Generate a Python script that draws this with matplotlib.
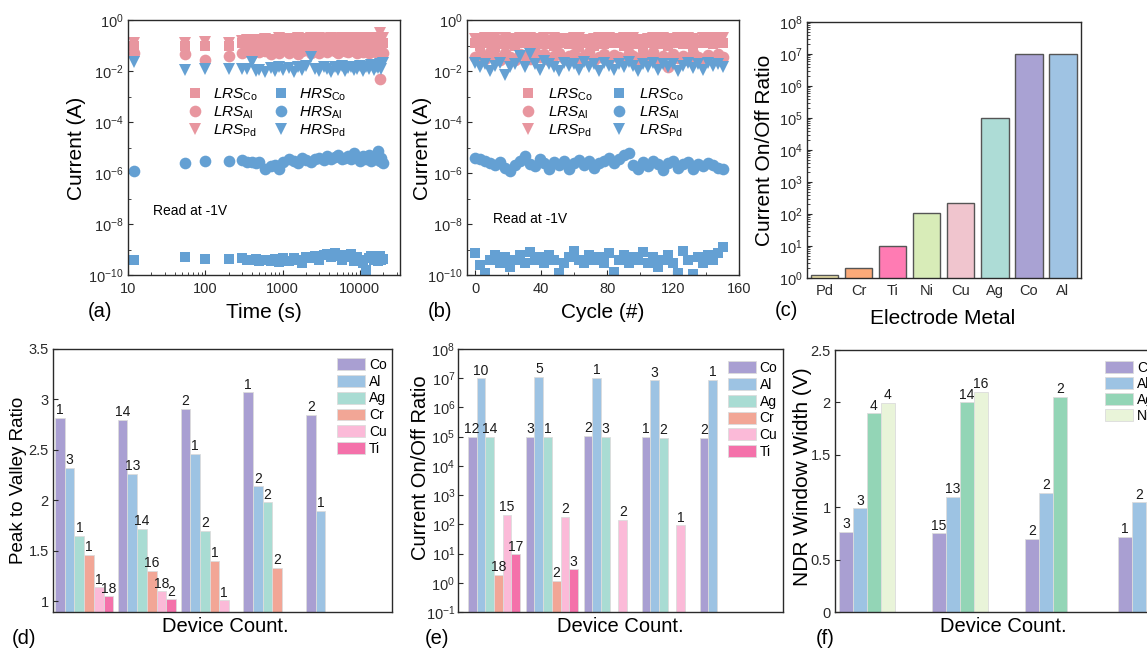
import numpy as np
import matplotlib.pyplot as plt
from matplotlib.ticker import FixedLocator, NullLocator, LogLocator, NullFormatter, FuncFormatter

plt.rcParams['font.family'] = ['Liberation Sans', 'DejaVu Sans']
plt.rcParams['mathtext.fontset'] = 'custom'
plt.rcParams['mathtext.rm'] = 'Liberation Sans'
plt.rcParams['mathtext.it'] = 'Liberation Sans:italic'
plt.rcParams['mathtext.bf'] = 'Liberation Sans:bold'

# ---------------- data: (a) retention vs time ----------------
t_a = [12, 55, 100, 200, 300, 350, 400, 450, 500, 600,
       700, 800, 900, 1000, 1200, 1400, 1600, 1800, 2000, 2300,
       2600, 3000, 3400, 3800, 4200, 4700, 5200, 5800, 6400, 7000,
       7700, 8500, 9300, 10000, 11000, 12000, 13000, 14000, 15000, 16000,
       17000, 18000, 19000, 20000]
lrs_co_a = np.array([1.0, 1.0, 1.0, 1.0, 1.2, 1.1, 1.3, 0.9, 1.2, 1.0,
                     1.3, 1.1, 1.2, 1.4, 1.0, 1.3, 1.1, 1.5, 1.2, 1.0,
                     1.4, 1.1, 1.3, 1.5, 1.0, 1.2, 1.4, 1.1, 1.3, 1.0,
                     1.5, 1.2, 1.1, 1.4, 1.0, 1.3, 1.2, 1.5, 1.1, 1.3,
                     1.2, 1.4, 1.1, 1.3]) * 1e-1
lrs_al_a = np.array([5, 4.5, 2.8, 4, 5, 6, 4.5, 7, 5.5, 6,
                     4.5, 7, 5, 6.5, 5, 7.5, 4.5, 6, 8, 5,
                     6.5, 5, 7, 5.5, 8, 6, 5, 7, 6, 5.5,
                     7.5, 6, 5, 7, 5.5, 6.5, 5, 7, 6, 5.5,
                     6.5, 0.5, 6, 5]) * 1e-2
lrs_pd_a = np.array([1.3, 1.3, 1.4, 1.3, 1.5, 1.6, 1.5, 1.7, 1.6, 1.8,
                     1.6, 1.7, 1.9, 1.6, 1.8, 1.7, 1.9, 1.6, 1.8, 2.0,
                     1.7, 1.9, 1.8, 1.6, 2.0, 1.8, 1.7, 1.9, 2.0, 1.8,
                     1.7, 1.9, 2.0, 1.8, 1.7, 1.9, 2.0, 1.8, 1.9, 2.0,
                     1.8, 3.0, 2.0, 1.9]) * 1e-1
hrs_co_a = np.array([4, 5, 4.2, 4.3, 4.5, 4, 3.8, 4.2, 3.5, 4,
                     3.6, 4.2, 3.2, 4.5, 3.5, 4.8, 4, 3, 5, 4.5,
                     5.5, 4, 6, 6.5, 5, 7, 5.5, 4, 6, 5,
                     6.5, 3.5, 5, 4, 3, 1.6, 4.5, 5.5, 4, 5,
                     3.5, 5.5, 4, 4.2]) * 1e-10
hrs_al_a = np.array([1.2, 2.5, 3, 3, 3.2, 2.6, 2.8, 2.5, 2.7, 1.4,
                     1.8, 2, 1.5, 2.8, 3.5, 3, 2.5, 3.8, 3.2, 2.8,
                     3.5, 4, 3.2, 4.5, 3.5, 4.2, 5, 3.5, 4, 4.8,
                     3.5, 6, 4, 3, 4.5, 3.5, 5, 3, 4, 3.5,
                     7, 3, 4, 2.5]) * 1e-6
hrs_pd_a = np.array([2.2, 1.1, 1.2, 1.2, 1.2, 1.2, 2.2, 1.0, 1.1, 0.9,
                     1.3, 1.0, 1.5, 1.1, 1.3, 0.9, 1.4, 1.1, 1.6, 3.5,
                     1.2, 1.0, 1.5, 1.2, 0.9, 1.4, 1.1, 1.6, 1.0, 1.3,
                     1.5, 1.1, 1.2, 1.6, 1.0, 1.4, 1.2, 1.7, 1.1, 1.5,
                     1.3, 1.8, 1.2, 2.0]) * 1e-2

# ---------------- data: (b) endurance vs cycle ----------------
cyc_b = list(range(0, 151, 3))
lrs_co_b = np.array([1.3, 1.0, 1.5, 1.2, 0.9, 1.4, 1.1, 1.6, 1.0, 1.3,
                     1.2, 1.5, 0.9, 1.3, 1.1, 1.4, 1.0, 1.2, 1.5, 1.1,
                     1.3, 0.9, 1.4, 1.2, 1.0, 1.5, 1.1, 1.3, 1.2, 1.4,
                     1.0, 1.3, 1.1, 1.5, 0.9, 1.2, 1.4, 1.1, 1.3, 1.0,
                     1.5, 1.2, 1.1, 1.4, 1.0, 1.3, 1.2, 1.5, 1.1, 1.3,
                     1.2]) * 1e-1
lrs_al_b = np.array([3.5, 4.5, 3, 5.5, 4, 2.6, 5, 3.5, 2.8, 4.5,
                     3.8, 3, 5.5, 3.5, 4.5, 2.8, 4, 5, 3.2, 3.8,
                     4.5, 3, 4, 5.5, 2.8, 3.5, 4.8, 3, 4.2, 3.5,
                     3, 5, 3.8, 2.8, 4.5, 3.5, 5.5, 2.8, 4, 1.5,
                     4.5, 3.2, 4, 2.8, 5, 3.5, 3, 4.2, 2.8, 4.5,
                     3.5]) * 1e-2
lrs_pd_b = np.array([1.8, 1.6, 2.0, 1.7, 1.9, 1.5, 2.0, 1.8, 1.6, 1.9,
                     1.7, 2.0, 1.6, 1.8, 1.9, 1.5, 2.0, 1.7, 1.8, 1.6,
                     1.9, 2.0, 1.7, 1.5, 1.8, 1.9, 1.6, 2.0, 1.7, 1.8,
                     1.9, 1.6, 2.0, 1.7, 1.5, 1.8, 1.9, 1.6, 2.0, 1.8,
                     1.7, 1.9, 1.6, 2.0, 1.8, 1.5, 1.9, 1.7, 2.0, 1.8,
                     2.0]) * 1e-1
hrs_co_b = np.array([7, 2.5, 1.2, 4, 6, 3, 5, 2, 4, 6,
                     3, 8, 4, 5, 3, 6, 4, 1.2, 3, 5,
                     9, 4, 3, 6, 4, 5, 3, 7, 1.3, 4,
                     6, 3, 5, 4, 8, 3, 5, 2, 4, 6,
                     3, 1.2, 9, 4, 1.1, 5, 3, 6, 4, 7,
                     13]) * 1e-10
hrs_al_b = np.array([4, 3.5, 3, 2.5, 2, 2.8, 1.6, 1.2, 2, 3,
                     4.5, 2.2, 1.8, 3.5, 2.5, 1.5, 2.8, 2, 3, 1.4,
                     2.5, 3.2, 2, 3, 1.6, 2.4, 3, 4, 2.5, 3.5,
                     5, 6, 2, 1.4, 2.8, 1.8, 3, 2.2, 1.3, 2.5,
                     3, 1.6, 2.2, 2.8, 1.5, 2.2, 1.8, 2.5, 2, 1.6,
                     1.5]) * 1e-6
hrs_pd_b = np.array([2.0, 1.4, 1.8, 1.0, 1.6, 2.0, 0.7, 1.4, 1.8, 4,
                     1.4, 4.5, 1.8, 1.1, 2.4, 1.8, 1.4, 1.0, 2.0, 1.6,
                     1.8, 1.1, 2.2, 1.4, 1.8, 1.0, 2.0, 1.6, 1.1, 1.9,
                     1.4, 2.2, 1.6, 1.0, 1.8, 1.4, 2.0, 1.1, 1.8, 1.5,
                     1.9, 1.0, 1.6, 2.0, 1.3, 1.8, 1.1, 2.0, 1.6, 1.8,
                     1.4]) * 1e-2

# ---------------- data: (c) on/off ratio per metal ----------------
metals_c = ['Pd', 'Cr', 'Ti', 'Ni', 'Cu', 'Ag', 'Co', 'Al']
ratio_c = [1.2, 2, 10, 105, 220, 1e5, 1e7, 1e7]
colors_c = ['#EEE4A9', '#FBAA79', '#FF7BB3', '#D8ECB8', '#F0C5CE', '#ADDCD6', '#A9A2D3', '#9FC3E3']

# ---------------- data: (d) peak to valley ratio ----------------
nan = np.nan
d_co = [2.82, 2.80, 2.91, 3.07, 2.85]
d_al = [2.32, 2.26, 2.46, 2.14, 1.90]
d_ag = [1.65, 1.72, 1.70, 1.98, nan]
d_cr = [1.46, 1.30, 1.40, 1.33, nan]
d_cu = [1.14, 1.10, 1.01, nan, nan]
d_ti = [1.05, 1.02, nan, nan, nan]
d_co_n = [1, 14, 2, 1, 2]
d_al_n = [3, 13, 1, 2, 1]
d_ag_n = [1, 14, 2, 2, 0]
d_cr_n = [1, 16, 1, 2, 0]
d_cu_n = [1, 18, 1, 0, 0]
d_ti_n = [18, 2, 0, 0, 0]

# ---------------- data: (e) on/off ratio per device ----------------
e_co = [1e5, 1e5, 1.05e5, 1e5, 9.2e4]
e_al = [1e7, 1.1e7, 1.05e7, 8.5e6, 9e6]
e_ag = [1e5, 1e5, 1e5, 9e4, nan]
e_cr = [1.9, 1.15, nan, nan, nan]
e_cu = [215, 180, 140, 92, nan]
e_ti = [9.5, 2.9, nan, nan, nan]
e_co_n = [12, 3, 2, 1, 2]
e_al_n = [10, 5, 1, 3, 1]
e_ag_n = [14, 1, 3, 2, 0]
e_cr_n = [18, 2, 0, 0, 0]
e_cu_n = [15, 2, 2, 1, 0]
e_ti_n = [17, 3, 0, 0, 0]

# ---------------- data: (f) NDR window width ----------------
f_co = [0.765, 0.75, 0.695, 0.717]
f_al = [0.99, 1.10, 1.135, 1.045]
f_ag = [1.895, 2.0, 2.05, nan]
f_ni = [1.997, 2.10, nan, nan]
f_co_n = [3, 15, 2, 1]
f_al_n = [3, 13, 2, 2]
f_ag_n = [4, 14, 2, 0]
f_ni_n = [4, 16, 0, 0]

c_co, c_al, c_ag, c_cr, c_cu, c_ti = '#A99FD2', '#9DC3E3', '#A9DCD3', '#F2A696', '#FBBAD8', '#F471AA'
c_ag_f, c_ni_f = '#93D5B6', '#E9F4D9'
pink, blue = '#E8969F', '#64A0D3'

W, H = 1147, 648


def box(l, t, r, b):
    return [l / W, 1 - b / H, (r - l) / W, (b - t) / H]


def ftext(x, y, s, **kw):
    fig.text(x / W, 1 - y / H, s, ha='center', va='center', **kw)


def style(ax):
    for sp in ax.spines.values():
        sp.set_color('#2a2a2a')
        sp.set_linewidth(1.0)
    ax.tick_params(which='both', direction='in', top=False, right=False,
                   labelsize=10.5, colors='#2a2a2a', pad=3)
    ax.tick_params(which='major', length=3.5)
    ax.tick_params(which='minor', length=2)


def logfmt(v, p):
    return r'$10^{%d}$' % round(np.log10(v))


def grouped(ax, series, names, colors, counts, width):
    n = len(series)
    for i in range(n):
        off = (i - (n - 1) / 2) * width
        xs = [g + off for g, v in enumerate(series[i]) if not np.isnan(v)]
        vs = [v for v in series[i] if not np.isnan(v)]
        ns = [c for v, c in zip(series[i], counts[i]) if not np.isnan(v)]
        ax.bar(xs, vs, width, color=colors[i], edgecolor='#dcdcdc', linewidth=0.6,
               label=names[i])
        for x, v, c in zip(xs, vs, ns):
            ax.annotate(str(c), (x, v), xytext=(0, 0.5), textcoords='offset points',
                        ha='center', va='bottom', fontsize=10, color='#1a1a1a')


fig = plt.figure(figsize=(11.47, 6.48), dpi=100)

# ================= (a) =================
ax = fig.add_axes(box(128, 20, 400, 275))
ms = 7.8
h1, = ax.plot(t_a, lrs_co_a, 's', color=pink, ms=ms, mew=0)
h2, = ax.plot(t_a, lrs_al_a, 'o', color=pink, ms=ms + 0.6, mew=0)
h3, = ax.plot(t_a, lrs_pd_a, 'v', color=pink, ms=ms + 1.2, mew=0)
h4, = ax.plot(t_a, hrs_co_a, 's', color=blue, ms=ms, mew=0)
h5, = ax.plot(t_a, hrs_al_a, 'o', color=blue, ms=ms + 0.6, mew=0)
h6, = ax.plot(t_a, hrs_pd_a, 'v', color=blue, ms=ms + 1.2, mew=0)
ax.set_xscale('log')
ax.set_yscale('log')
ax.set_xlim(10, 33000)
ax.set_ylim(1e-10, 1)
ax.xaxis.set_major_locator(FixedLocator([10, 100, 1000, 10000]))
ax.xaxis.set_major_formatter(FuncFormatter(lambda v, p: '%d' % v))
ax.xaxis.set_minor_locator(LogLocator(subs=np.arange(2, 10)))
ax.xaxis.set_minor_formatter(NullFormatter())
ax.yaxis.set_major_locator(FixedLocator([1e-10, 1e-8, 1e-6, 1e-4, 1e-2, 1]))
ax.yaxis.set_major_formatter(FuncFormatter(logfmt))
ax.yaxis.set_minor_locator(FixedLocator([1e-9, 1e-7, 1e-5, 1e-3, 1e-1]))
ax.yaxis.set_minor_formatter(NullFormatter())
style(ax)
ax.tick_params(axis='x', pad=5)
ax.legend([h1, h2, h3, h4, h5, h6],
          [r'$LRS_{\mathrm{Co}}$', r'$LRS_{\mathrm{Al}}$', r'$LRS_{\mathrm{Pd}}$',
           r'$HRS_{\mathrm{Co}}$', r'$HRS_{\mathrm{Al}}$', r'$HRS_{\mathrm{Pd}}$'],
          ncol=2, loc='upper left', bbox_to_anchor=(0.224, 0.74), frameon=False,
          fontsize=11, borderpad=0, borderaxespad=0, handlelength=0.8,
          handletextpad=0.8, columnspacing=1.1, labelspacing=0.1)
ax.text(0.092, 0.251, 'Read at -1V', transform=ax.transAxes, fontsize=10, va='center')
ftext(77, 148, 'Current (A)', rotation=90, fontsize=15)
ftext(264, 313, 'Time (s)', fontsize=15)
ftext(100, 312, '(a)', fontsize=14.5)

# ================= (b) =================
ax = fig.add_axes(box(467, 20, 739, 275))
h1, = ax.plot(cyc_b, lrs_co_b, 's', color=pink, ms=ms, mew=0)
h2, = ax.plot(cyc_b, lrs_al_b, 'o', color=pink, ms=ms + 0.6, mew=0)
h3, = ax.plot(cyc_b, lrs_pd_b, 'v', color=pink, ms=ms + 1.2, mew=0)
h4, = ax.plot(cyc_b, hrs_co_b, 's', color=blue, ms=ms, mew=0)
h5, = ax.plot(cyc_b, hrs_al_b, 'o', color=blue, ms=ms + 0.6, mew=0)
h6, = ax.plot(cyc_b, hrs_pd_b, 'v', color=blue, ms=ms + 1.2, mew=0)
ax.set_yscale('log')
ax.set_xlim(-5, 160)
ax.set_ylim(1e-10, 1)
ax.xaxis.set_major_locator(FixedLocator([0, 40, 80, 120, 160]))
ax.xaxis.set_minor_locator(FixedLocator([20, 60, 100, 140]))
ax.yaxis.set_major_locator(FixedLocator([1e-10, 1e-8, 1e-6, 1e-4, 1e-2, 1]))
ax.yaxis.set_major_formatter(FuncFormatter(logfmt))
ax.yaxis.set_minor_locator(FixedLocator([1e-9, 1e-7, 1e-5, 1e-3, 1e-1]))
ax.yaxis.set_minor_formatter(NullFormatter())
style(ax)
ax.tick_params(axis='x', pad=5)
ax.legend([h1, h2, h3, h4, h5, h6],
          [r'$LRS_{\mathrm{Co}}$', r'$LRS_{\mathrm{Al}}$', r'$LRS_{\mathrm{Pd}}$',
           r'$LRS_{\mathrm{Co}}$', r'$LRS_{\mathrm{Al}}$', r'$LRS_{\mathrm{Pd}}$'],
          ncol=2, loc='upper left', bbox_to_anchor=(0.202, 0.74), frameon=False,
          fontsize=11, borderpad=0, borderaxespad=0, handlelength=0.8,
          handletextpad=0.9, columnspacing=1.3, labelspacing=0.1)
ax.text(0.096, 0.22, 'Read at -1V', transform=ax.transAxes, fontsize=10, va='center')
ftext(423, 148, 'Current (A)', rotation=90, fontsize=15)
ftext(603, 313, 'Cycle (#)', fontsize=15)
ftext(440, 312, '(b)', fontsize=14.5)

# ================= (c) =================
ax = fig.add_axes(box(807, 22, 1081, 278))
ax.set_yscale('log')
ax.bar(range(len(metals_c)), ratio_c, 0.8, color=colors_c, edgecolor='#555555', linewidth=1.0)
ax.set_xlim(-0.52, 7.53)
ax.set_ylim(1, 1e8)
ax.set_xticks(range(len(metals_c)))
ax.set_xticklabels(metals_c)
ax.yaxis.set_major_locator(FixedLocator([10.0 ** k for k in range(0, 9)]))
ax.yaxis.set_major_formatter(FuncFormatter(logfmt))
ax.yaxis.set_minor_locator(LogLocator(subs=np.arange(2, 10), numticks=20))
ax.yaxis.set_minor_formatter(NullFormatter())
style(ax)
ax.tick_params(axis='x', length=0, pad=4)
ftext(765, 150, 'Current On/Off Ratio', rotation=90, fontsize=15)
ftext(943, 318, 'Electrode Metal', fontsize=15)
ftext(786, 311, '(c)', fontsize=14.5)

names6 = ['Co', 'Al', 'Ag', 'Cr', 'Cu', 'Ti']
colors6 = [c_co, c_al, c_ag, c_cr, c_cu, c_ti]

# ================= (d) =================
ax = fig.add_axes(box(53, 349, 392, 612))
grouped(ax, [d_co, d_al, d_ag, d_cr, d_cu, d_ti], names6, colors6,
        [d_co_n, d_al_n, d_ag_n, d_cr_n, d_cu_n, d_ti_n], 0.155)
ax.set_xlim(-0.497, 4.905)
ax.set_ylim(0.895, 3.5)
ax.set_xticks([])
ax.set_yticks([1, 1.5, 2, 2.5, 3, 3.5])
ax.set_yticklabels(['1', '1.5', '2', '2.5', '3', '3.5'])
style(ax)
ax.legend(loc='upper left', bbox_to_anchor=(0.838, 0.966), frameon=False, fontsize=10,
          borderpad=0, borderaxespad=0, handlelength=2.0, handleheight=0.95,
          handletextpad=0.3, labelspacing=0.2)
ftext(19, 480, 'Peak to Valley Ratio', rotation=90, fontsize=13.5)
ftext(225, 626, 'Device Count.', fontsize=14.5)
ftext(24, 639, '(d)', fontsize=14.5)

# ================= (e) =================
ax = fig.add_axes(box(458, 349, 783, 612))
ax.set_yscale('log')
grouped(ax, [e_co, e_al, e_ag, e_cr, e_cu, e_ti], names6, colors6,
        [e_co_n, e_al_n, e_ag_n, e_cr_n, e_cu_n, e_ti_n], 0.15)
ax.set_xlim(-0.62, 4.99)
ax.set_ylim(0.1, 1e8)
ax.set_xticks([])
ax.yaxis.set_major_locator(FixedLocator([10.0 ** k for k in range(-1, 9)]))
ax.yaxis.set_major_formatter(FuncFormatter(logfmt))
ax.yaxis.set_minor_locator(NullLocator())
style(ax)
ax.tick_params(axis='y', pad=2)
ax.legend(loc='upper left', bbox_to_anchor=(0.83, 0.954), frameon=False, fontsize=10,
          borderpad=0, borderaxespad=0, handlelength=2.0, handleheight=0.95,
          handletextpad=0.3, labelspacing=0.2)
ftext(420, 468, 'Current On/Off Ratio', rotation=90, fontsize=14.5)
ftext(620, 626, 'Device Count.', fontsize=14.5)
ftext(437, 638, '(e)', fontsize=14.5)

# ================= (f) =================
ax = fig.add_axes(box(835, 350, 1174, 612))
grouped(ax, [f_co, f_al, f_ag, f_ni], ['Co', 'Al', 'Ag', 'Ni'],
        [c_co, c_al, c_ag_f, c_ni_f], [f_co_n, f_al_n, f_ag_n, f_ni_n], 0.15)
ax.set_xlim(-0.344, 3.30)
ax.set_ylim(0, 2.5)
ax.set_xticks([])
ax.set_yticks([0, 0.5, 1, 1.5, 2, 2.5])
ax.set_yticklabels(['0', '0.5', '1', '1.5', '2', '2.5'])
style(ax)
ax.legend(loc='upper left', bbox_to_anchor=(0.796, 0.958), frameon=False, fontsize=10,
          borderpad=0, borderaxespad=0, handlelength=2.0, handleheight=0.95,
          handletextpad=0.3, labelspacing=0.15)
ftext(803, 477, 'NDR Window Width (V)', rotation=90, fontsize=15)
ftext(1003, 627, 'Device Count.', fontsize=14.5)
ftext(825, 639, '(f)', fontsize=14.5)

fig.savefig('out.png', dpi=100)
